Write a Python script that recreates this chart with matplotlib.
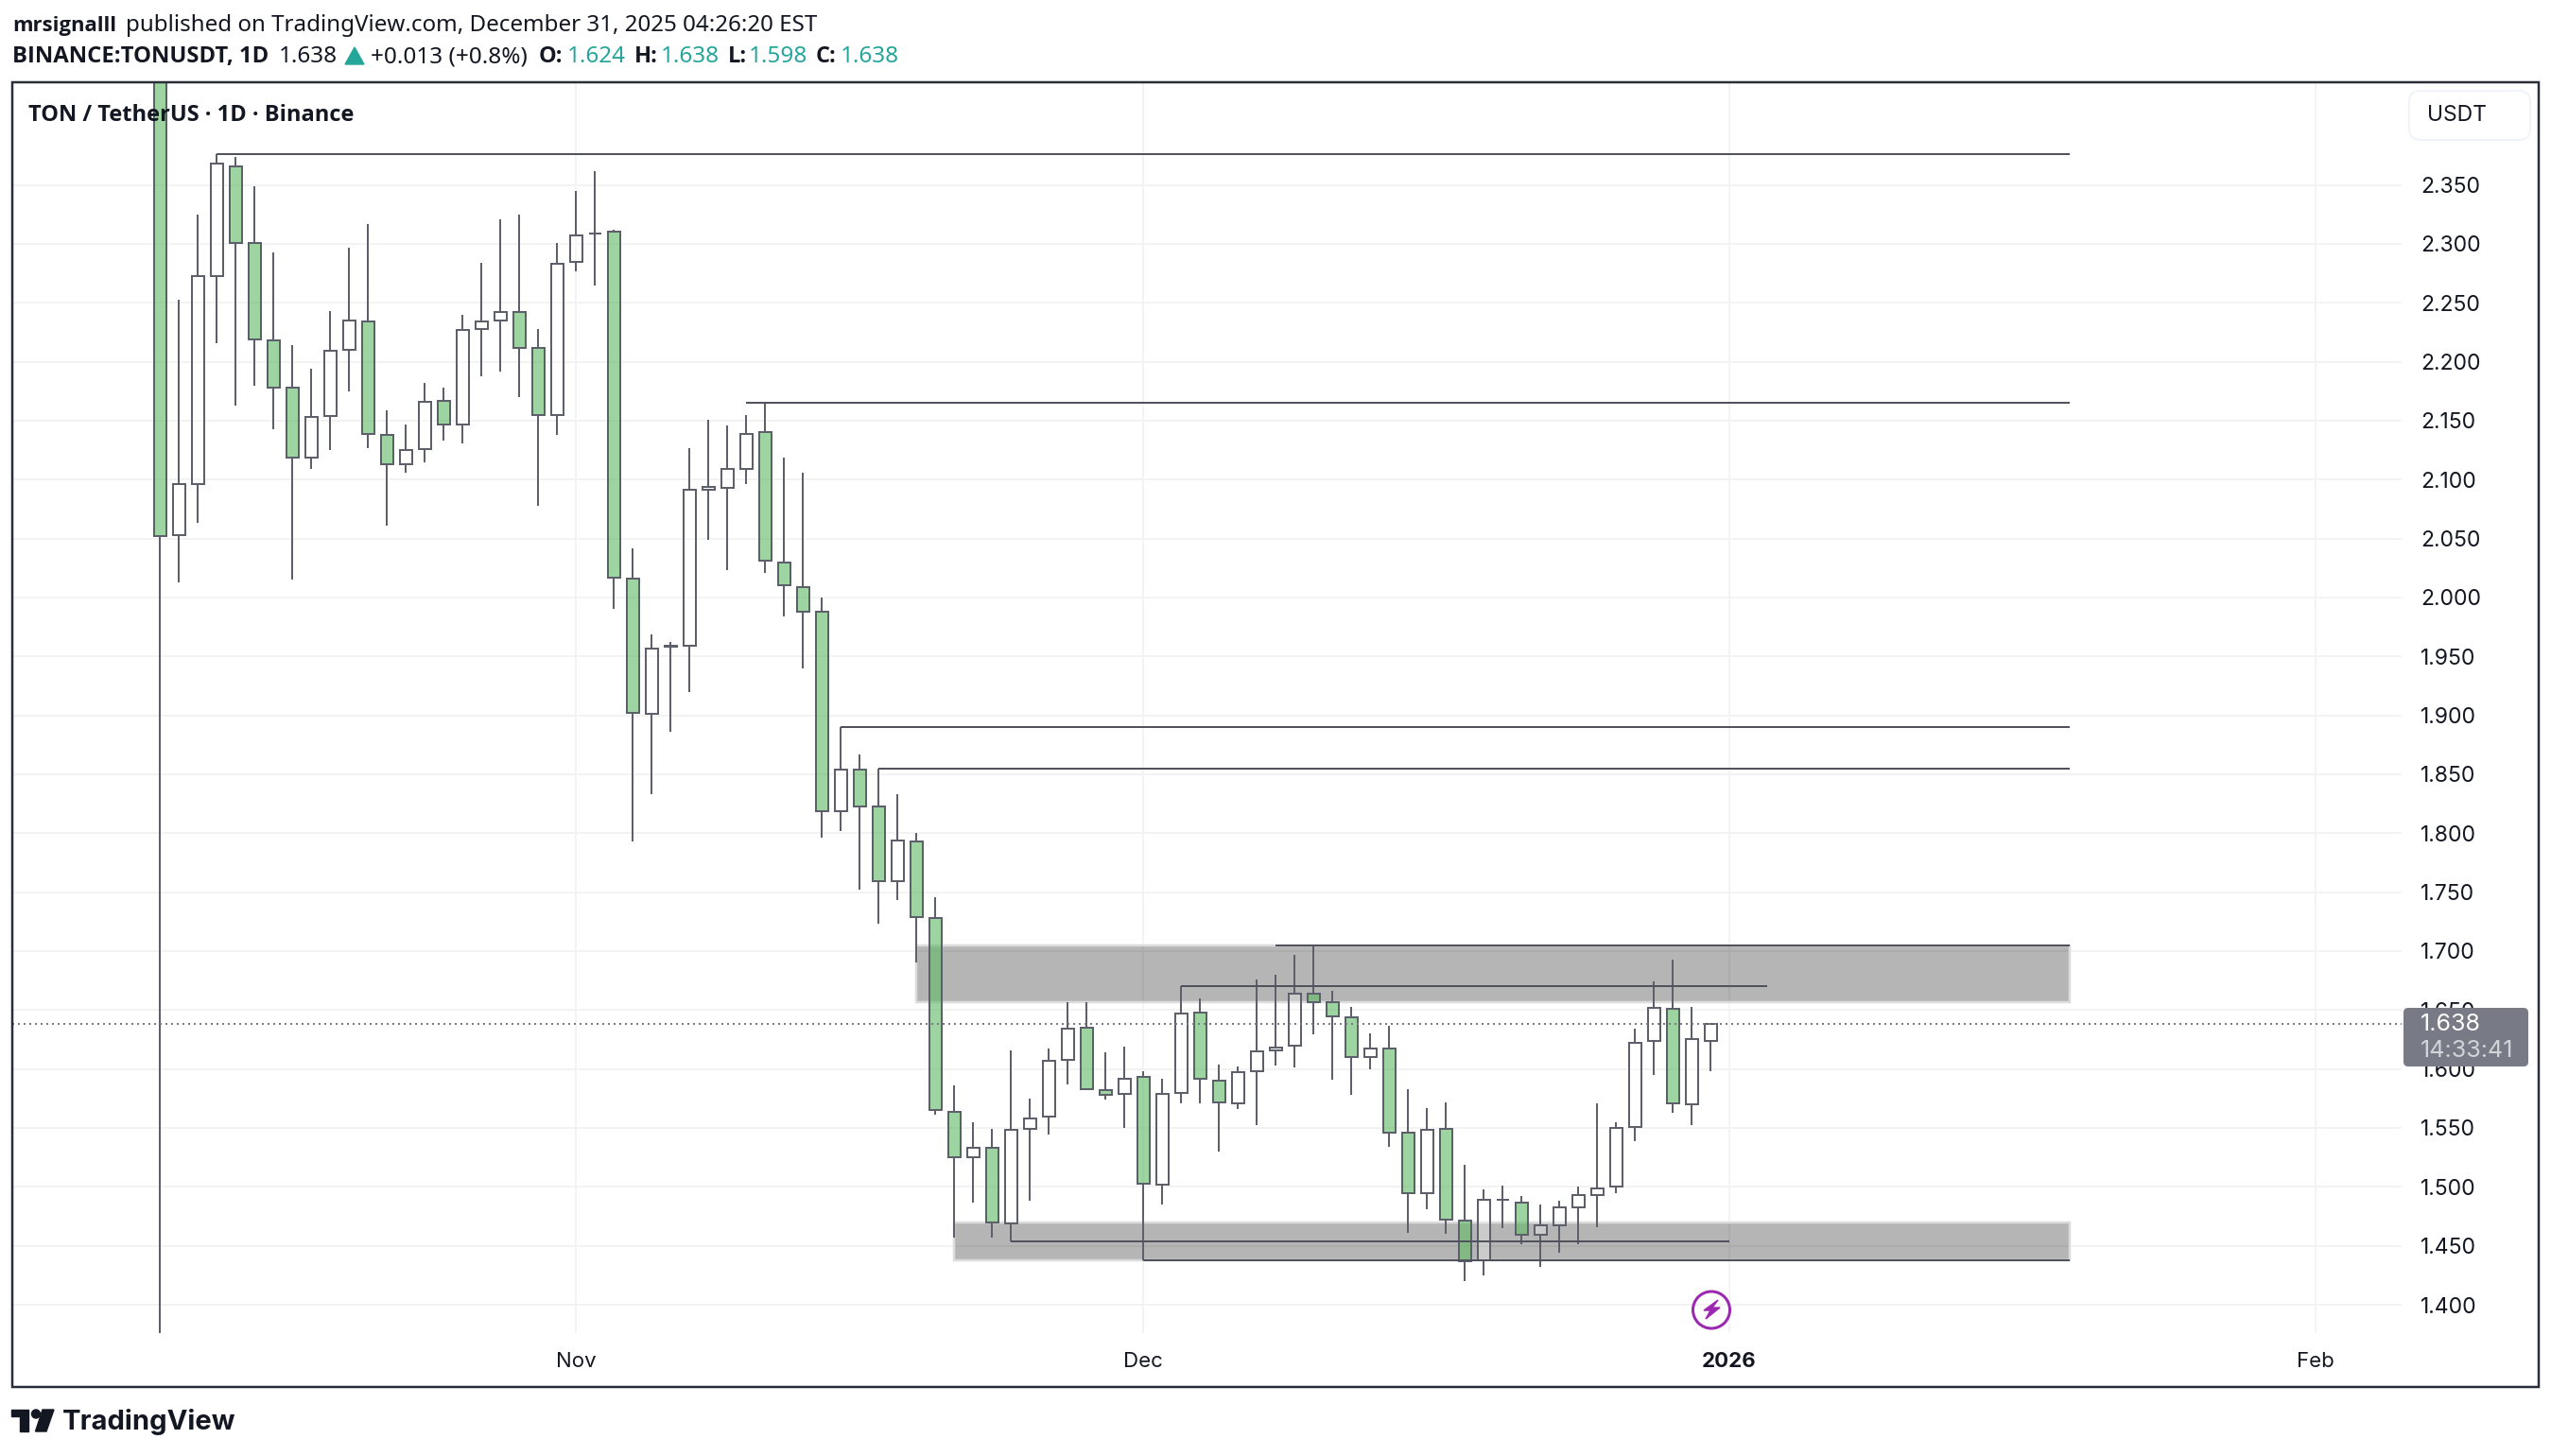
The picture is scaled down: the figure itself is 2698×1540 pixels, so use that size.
import matplotlib
matplotlib.use('Agg')
import matplotlib.pyplot as plt
from matplotlib.patches import FancyBboxPatch, Circle, Polygon, Rectangle

W, H = 2698, 1540

# daily candles, first one is Oct 10 2025
opens = [2.900, 2.053, 2.096, 2.273, 2.366, 2.301, 2.218, 2.178, 2.119, 2.154, 2.210, 2.234,
         2.138, 2.113, 2.126, 2.167, 2.147, 2.228, 2.235, 2.242, 2.212, 2.155, 2.285, 2.309,
         2.310, 2.016, 1.901, 1.958, 1.959, 2.091, 2.093, 2.109, 2.140, 2.030, 2.009, 1.988,
         1.819, 1.854, 1.823, 1.759, 1.793, 1.728, 1.564, 1.525, 1.533, 1.469, 1.549, 1.560,
         1.608, 1.635, 1.582, 1.579, 1.593, 1.502, 1.580, 1.648, 1.590, 1.571, 1.598, 1.616,
         1.620, 1.664, 1.657, 1.644, 1.610, 1.617, 1.546, 1.495, 1.549, 1.471, 1.438, 1.489,
         1.487, 1.459, 1.467, 1.483, 1.493, 1.500, 1.551, 1.624, 1.651, 1.570, 1.624]
highs = [3.000, 2.253, 2.325, 2.376, 2.374, 2.349, 2.293, 2.214, 2.194, 2.243, 2.297, 2.317,
         2.159, 2.147, 2.182, 2.178, 2.240, 2.284, 2.321, 2.325, 2.228, 2.301, 2.345, 2.362,
         2.312, 2.042, 1.969, 1.962, 2.127, 2.151, 2.146, 2.155, 2.165, 2.119, 2.106, 2.000,
         1.890, 1.867, 1.855, 1.833, 1.800, 1.746, 1.586, 1.555, 1.549, 1.616, 1.575, 1.617,
         1.657, 1.657, 1.614, 1.619, 1.598, 1.592, 1.670, 1.660, 1.604, 1.602, 1.676, 1.680,
         1.697, 1.705, 1.666, 1.653, 1.630, 1.637, 1.583, 1.567, 1.572, 1.519, 1.498, 1.501,
         1.492, 1.485, 1.488, 1.500, 1.571, 1.555, 1.634, 1.674, 1.693, 1.653, 1.638]
lows = [1.376, 2.013, 2.063, 2.216, 2.163, 2.180, 2.143, 2.015, 2.109, 2.125, 2.175, 2.127,
        2.061, 2.106, 2.115, 2.133, 2.131, 2.188, 2.192, 2.170, 2.078, 2.138, 2.277, 2.265,
        1.990, 1.793, 1.833, 1.886, 1.920, 2.049, 2.023, 2.096, 2.021, 1.984, 1.940, 1.796,
        1.802, 1.752, 1.723, 1.743, 1.690, 1.561, 1.457, 1.487, 1.457, 1.454, 1.488, 1.544,
        1.587, 1.582, 1.574, 1.550, 1.438, 1.485, 1.571, 1.571, 1.530, 1.566, 1.552, 1.603,
        1.601, 1.629, 1.591, 1.578, 1.600, 1.534, 1.461, 1.481, 1.460, 1.420, 1.425, 1.465,
        1.451, 1.432, 1.444, 1.451, 1.466, 1.495, 1.539, 1.595, 1.563, 1.552, 1.598]
closes = [2.052, 2.096, 2.273, 2.368, 2.301, 2.219, 2.178, 2.119, 2.153, 2.209, 2.235, 2.139,
          2.113, 2.125, 2.166, 2.147, 2.227, 2.234, 2.242, 2.212, 2.155, 2.283, 2.307, 2.309,
          2.017, 1.902, 1.957, 1.959, 2.091, 2.094, 2.109, 2.139, 2.031, 2.010, 1.988, 1.819,
          1.854, 1.823, 1.759, 1.794, 1.729, 1.565, 1.525, 1.533, 1.470, 1.548, 1.558, 1.607,
          1.634, 1.583, 1.578, 1.592, 1.503, 1.579, 1.647, 1.592, 1.572, 1.597, 1.615, 1.618,
          1.664, 1.657, 1.645, 1.610, 1.617, 1.546, 1.495, 1.548, 1.472, 1.437, 1.489, 1.489,
          1.459, 1.467, 1.483, 1.493, 1.499, 1.550, 1.622, 1.652, 1.571, 1.625, 1.638]

# drawn levels (price, first day, last day)
level_prices = [2.376, 2.165, 1.890, 1.855, 1.705, 1.670, 1.454, 1.438]
level_starts = [3, 31, 36, 38, 59, 54, 45, 52]
level_ends = [101, 101, 101, 101, 101, 85, 83, 101]

# grey zones
zone_tops = [1.705, 1.470]
zone_bottoms = [1.657, 1.438]
zone_starts = [40, 42]
zone_ends = [101, 101]

price_ticks = [1.40, 1.45, 1.50, 1.55, 1.60, 1.65, 1.70, 1.75, 1.80, 1.85, 1.90, 1.95, 2.00,
               2.05, 2.10, 2.15, 2.20, 2.25, 2.30, 2.35]
month_ticks = [22, 52, 83, 114]
month_labels = ['Nov', 'Dec', '2026', 'Feb']
last_price = 1.638

WICK = '#5D606B'
LEVEL = '#50535E'
GRID = '#F3F3F3'
DARK = '#131722'
TEAL = '#26A69A'
GREEN_BODY = (0.40, 0.733, 0.416, 0.63)
WHITE_BODY = (1, 1, 1, 0.3)
px = 0.72  # one pixel in points at dpi 100

plt.rcParams['font.family'] = ['Noto Sans', 'DejaVu Sans']

fig = plt.figure(figsize=(W / 100, H / 100), dpi=100, facecolor='white')

# price pane, pixel box measured on the reference
ax = fig.add_axes([13 / W, 1 - 1410 / H, (2540 - 13) / W, (1410 - 87) / H])
ax.set_xlim(-7.8, 118.55)
ax.set_ylim(1.37594, 2.4371)
for s in ax.spines.values():
    s.set_visible(False)

ax.set_axisbelow(True)
ax.yaxis.tick_right()
ax.set_yticks(price_ticks)
ax.set_yticklabels(['%.3f' % p for p in price_ticks], family='Inter', fontsize=16.5, color=DARK)
ax.set_xticks(month_ticks)
ax.set_xticklabels([])
ax.tick_params(length=0, pad=14.5)
ax.grid(True, color=GRID, linewidth=2 * px)

for i in range(len(zone_tops)):
    ax.add_patch(Rectangle((zone_starts[i], zone_bottoms[i]), zone_ends[i] - zone_starts[i],
                           zone_tops[i] - zone_bottoms[i], facecolor=(0, 0, 0, 0.29),
                           edgecolor='#DCDCDC', linewidth=2.5 * px, zorder=1))

days = list(range(len(opens)))
body_tops = [max(o, c) for o, c in zip(opens, closes)]
body_bottoms = [min(o, c) for o, c in zip(opens, closes)]
body_colors = [WHITE_BODY if c >= o else GREEN_BODY for o, c in zip(opens, closes)]

ax.vlines(days, body_tops, highs, color=WICK, linewidth=2 * px, zorder=3)
ax.vlines(days, lows, body_bottoms, color=WICK, linewidth=2 * px, zorder=3)
ax.bar(days, [t - b for t, b in zip(body_tops, body_bottoms)], bottom=body_bottoms, width=0.65,
       color=body_colors, edgecolor=WICK, linewidth=2 * px, zorder=3)

ax.hlines(level_prices, level_starts, level_ends, color=LEVEL, linewidth=2 * px, zorder=4)
ax.axhline(last_price, color='#787B86', linewidth=2 * px, dashes=(1, 2), zorder=5)

# everything around the pane goes on a pixel overlay
ov = fig.add_axes([0, 0, 1, 1], facecolor='none')
ov.set_xlim(0, W)
ov.set_ylim(H, 0)
ov.axis('off')

ov.add_patch(Rectangle((13, 87), 2672, 1380, fill=False, edgecolor='#2A2E39', linewidth=2.5 * px))


def put(x, y, s, size=17.5, weight='normal', color=DARK, family=None, ha='left'):
    if family is None:
        family = ['Open Sans', 'DejaVu Sans'] if weight == 'bold' else ['Noto Sans', 'DejaVu Sans']
    ov.text(x, y, s, fontsize=size, fontweight=weight, color=color, ha=ha, va='center', family=family)


# header rows
put(13, 27, 'mrsignalll', weight='bold', size=15.8)
put(133, 27, 'published on TradingView.com, December 31, 2025 04:26:20 EST', size=17.4)
put(13, 60, 'BINANCE:TONUSDT, 1D', weight='bold', size=17.2)
put(295, 60, '1.638')
ov.add_patch(Polygon([(375, 50), (365, 68), (385, 68)], color=TEAL))
put(392, 60, '+0.013 (+0.8%)')
put(570, 60, 'O:', weight='bold', size=17)
put(600, 60, '1.624', color=TEAL)
put(671, 60, 'H:', weight='bold', size=17)
put(699, 60, '1.638', color=TEAL)
put(770, 60, 'L:', weight='bold', size=17)
put(792, 60, '1.598', color=TEAL)
put(863, 60, 'C:', weight='bold', size=17)
put(889, 60, '1.638', color=TEAL)

put(30, 122, 'TON / TetherUS \u00b7 1D \u00b7 Binance', weight='bold', size=17)

# month labels under the pane
for d, lab in zip(month_ticks, month_labels):
    x = 169 + 20 * d
    put(x, 1440, lab, size=16, family='Inter', ha='center', weight='bold' if lab == '2026' else 'normal')

# currency button
ov.add_patch(FancyBboxPatch((2548, 96), 128, 52, boxstyle='round,pad=0,rounding_size=12',
                            facecolor='white', edgecolor='#F0F3FA', linewidth=2 * px))
put(2567, 122, 'USDT', size=16.5, family='Inter')

# last price badge
ov.add_patch(FancyBboxPatch((2542, 1066), 132, 62, boxstyle='round,pad=0,rounding_size=5',
                            facecolor='#787B86', edgecolor='none'))
put(2560, 1084, '1.638', size=18, family='Inter', color='white')
put(2560, 1112, '14:33:41', size=18, family='Inter', color='#D3D4D8')

# bolt icon
ov.add_patch(Circle((1810, 1385.5), 19.5, fill=False, edgecolor='#9C27B0', linewidth=3 * px))
ov.add_patch(Polygon([(1817, 1375), (1802, 1386), (1809, 1386), (1804, 1395),
                      (1819, 1383), (1811, 1383)], color='#9C27B0'))

# TradingView logo
ov.add_patch(Polygon([(12, 1491), (30, 1491), (30, 1514), (21, 1514), (21, 1498), (12, 1498)], color=DARK))
ov.add_patch(Circle((38, 1495.5), 4.5, color=DARK))
ov.add_patch(Polygon([(45, 1491), (57, 1491), (49, 1514), (37.5, 1514)], color=DARK))
put(66, 1504, 'TradingView', size=21, weight='bold', family='Inter')

fig.savefig('out.png', dpi=100)
